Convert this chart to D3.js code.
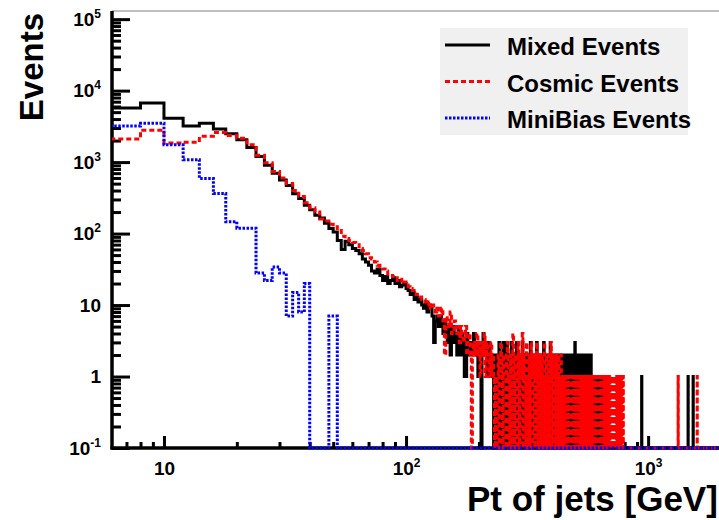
<!DOCTYPE html>
<html>
<head>
<meta charset="utf-8">
<script src="https://cdn.jsdelivr.net/npm/d3@7"></script>
<style>
  body { margin: 0; background: #fff; }
  text { font-family: "Liberation Sans", Arial, Helvetica, sans-serif; font-weight: bold; }
</style>
</head>
<body>
<svg id="chart" width="719" height="520"></svg>
<script>
// Jet transverse-momentum spectra, filled in 2 GeV bins starting at 6 GeV
const binStart = 6;
const binWidth = 2;
const binEnd = 2000;

const seriesNames = ["Mixed Events", "Cosmic Events", "MiniBias Events"];

// Mixed events, bins 6 .. 240 GeV
const mixedLowPt = [
  5700, 6700, 4100, 3200, 3500, 2900, 2500,
  2050, 1600, 1200, 900, 700, 560, 470, 360, 310, 250,
  215, 180, 165, 140, 118, 105, 80, 60, 78, 70,
  62, 58, 52, 44, 40, 36, 30, 28, 32, 26,
  22, 25, 20, 22, 24, 20, 22, 18, 19, 20,
  17, 16, 14, 15, 12, 13, 11, 12, 10, 9,
  11, 8, 10, 9, 7, 3, 6, 7, 5, 7,
  6, 4, 6, 5, 3, 5, 2, 4, 5, 3,
  4, 2, 5, 3, 2, 4, 3, 1, 1, 4,
  2, 3, 2, 3, 2, 4, 3, 2, 3, 1,
  2, 3, 0, 2, 4, 3, 2, 3, 1, 2,
  3, 2, 1, 2, 1, 0, 1, 2, 1, 0
];
// Mixed events, bins 240 .. 800 GeV
const mixedTail = [
  1, 3, 0, 2, 1, 0, 3, 1, 2, 0,
  3, 1, 0, 2, 0, 1, 3, 2, 0, 1,
  2, 0, 1, 3, 1, 0, 2, 1, 0, 2,
  0, 3, 1, 0, 2, 1, 0, 1, 2, 0,
  1, 0, 2, 3, 0, 1, 0, 2, 1, 0,
  2, 1, 0, 3, 1, 0, 1, 2, 0, 1,
  0, 1, 2, 0, 1, 3, 0, 1, 0, 2,
  1, 0, 2, 1, 0, 1, 0, 3, 1, 0,
  2, 0, 1, 0, 2, 1, 0, 1, 0, 2,
  0, 1, 0, 2, 1, 0, 2, 0, 1, 0,
  2, 1, 0, 2, 0, 2, 1, 0, 2, 2,
  0, 2, 1, 0, 2, 0, 1, 2, 0, 2,
  1, 0, 2, 0, 1, 2, 0, 2, 1, 3,
  2, 0, 1, 2, 0, 2, 1, 0, 2, 0,
  1, 2, 0, 2, 0, 1, 2, 0, 1, 2,
  0, 2, 1, 0, 2, 0, 2, 1, 0, 2,
  2, 0, 1, 2, 0, 1, 0, 2, 1, 0,
  2, 1, 0, 1, 0, 0, 1, 0, 0, 1,
  0, 0, 1, 0, 0, 0, 1, 0, 0, 0,
  0, 1, 0, 0, 0, 0, 0, 1, 0, 0,
  0, 0, 0, 0, 0, 1, 0, 0, 0, 0,
  0, 0, 0, 0, 0, 0, 0, 0, 0, 0,
  0, 0, 0, 0, 0, 0, 0, 0, 0, 0,
  0, 0, 0, 0, 0, 0, 0, 0, 0, 0,
  0, 0, 0, 0, 0, 0, 0, 0, 0, 0,
  0, 0, 0, 0, 0, 0, 0, 0, 0, 0,
  0, 0, 0, 0, 0, 0, 0, 0, 0, 0,
  0, 0, 0, 0, 0, 0, 0, 0, 0, 0
];
// Isolated high-pt entries [bin low edge in GeV, count]
const mixedHighPt = [[940, 1], [1462, 1], [1534, 1]];

// Cosmic events, bins 6 .. 240 GeV
const cosmicLowPt = [
  2100, 2800, 1850, 1900, 2300, 2600, 2350,
  2150, 1750, 1250, 980, 740, 600, 500, 400, 330, 270,
  230, 200, 160, 150, 135, 125, 110, 92, 85, 80,
  75, 70, 62, 58, 52, 46, 44, 40, 36, 34,
  32, 30, 27, 26, 25, 24, 22, 23, 20, 21,
  19, 18, 17, 16, 15, 14, 14, 13, 12, 12,
  11, 10, 11, 9, 10, 9, 8, 9, 7, 8,
  9, 6, 2, 7, 6, 5, 8, 4, 4, 6,
  5, 4, 5, 3, 5, 4, 3, 4, 5, 2,
  3, 4, 2, 0, 3, 2, 3, 2, 4, 2,
  3, 1, 2, 3, 2, 4, 1, 2, 3, 2,
  1, 2, 3, 1, 2, 1, 0, 1, 0, 1
];
// Cosmic events, bins 240 .. 800 GeV
const cosmicTail = [
  2, 0, 1, 3, 1, 0, 2, 1, 1, 0,
  2, 3, 1, 0, 1, 2, 0, 1, 4, 1,
  0, 2, 1, 1, 0, 3, 1, 0, 2, 1,
  1, 4, 0, 2, 1, 1, 0, 3, 2, 0,
  1, 2, 0, 1, 3, 1, 0, 2, 1, 1,
  0, 2, 1, 3, 0, 1, 2, 0, 1, 2,
  1, 0, 2, 1, 1, 0, 3, 1, 0, 1,
  2, 1, 0, 1, 2, 0, 1, 1, 3, 0,
  1, 2, 0, 1, 1, 0, 2, 1, 0, 2,
  1, 0, 1, 2, 0, 1, 1, 0, 2, 1,
  0, 1, 1, 0, 1, 1, 0, 1, 1, 0,
  1, 1, 0, 1, 0, 1, 1, 1, 0, 1,
  1, 0, 1, 1, 0, 1, 1, 0, 1, 1,
  0, 1, 1, 0, 1, 0, 1, 1, 0, 1,
  1, 0, 1, 1, 1, 0, 1, 0, 1, 1,
  0, 1, 0, 1, 1, 0, 1, 1, 0, 1,
  1, 0, 1, 0, 1, 1, 0, 1, 1, 0,
  1, 1, 0, 1, 0, 1, 0, 1, 1, 0,
  1, 0, 1, 1, 0, 1, 0, 0, 1, 1,
  0, 1, 0, 1, 1, 0, 1, 0, 1, 0,
  1, 1, 0, 0, 1, 0, 1, 1, 0, 1,
  0, 1, 0, 1, 0, 0, 1, 1, 0, 1,
  1, 0, 1, 0, 0, 1, 0, 1, 0, 1,
  0, 0, 1, 1, 0, 1, 0, 0, 1, 0,
  1, 0, 0, 1, 0, 1, 1, 0, 0, 1,
  0, 1, 0, 0, 1, 0, 1, 0, 0, 1,
  1, 0, 0, 1, 0, 0, 1, 0, 1, 0,
  0, 1, 0, 0, 1, 0, 0, 0, 0, 0
];
const cosmicHighPt = [[1330, 1], [1594, 1]];

// Minimum-bias events, bins 6 .. 54 GeV (empty above)
const miniBiasCounts = [
  3200, 3500, 1750, 1080, 590, 365, 146, 119, 119, 28,
  22, 34, 28, 7, 15, 8, 20, 0, 0, 0,
  0, 7, 7, 0
];

const xTickValues = [10, 100, 1000];
const xTickLabels = [["10", ""], ["10", "2"], ["10", "3"]];
const yTickValues = [0.1, 1, 10, 100, 1000, 10000, 100000];
const yTickLabels = [["10", "-1"], ["1", ""], ["10", ""], ["10", "2"], ["10", "3"], ["10", "4"], ["10", "5"]];

// ---- build full-range bin tables ----
const nBins = Math.round((binEnd - binStart) / binWidth);
function fullTable(parts, sparse) {
  const arr = new Array(nBins).fill(0);
  let i = 0;
  parts.forEach(p => p.forEach(v => { arr[i++] = v; }));
  (sparse || []).forEach(([lo, n]) => {
    arr[Math.round((lo - binStart) / binWidth)] = n;
  });
  return arr;
}
const mixed = fullTable([mixedLowPt, mixedTail], mixedHighPt);
const cosmic = fullTable([cosmicLowPt, cosmicTail], cosmicHighPt);
const miniBias = fullTable([miniBiasCounts], []);

// ---- scales ----
const frame = { left: 112, right: 721, top: 11, bottom: 448 };
const yMin = 0.1, yMax = 1.3e5;
const x = d3.scaleLog().domain([6.1, binEnd]).range([frame.left, frame.right]);
const y = d3.scaleLog().domain([yMin, yMax]).range([frame.bottom, frame.top]);

const svg = d3.select("#chart");

// frame top edge
svg.append("line")
  .attr("x1", frame.left).attr("x2", 719)
  .attr("y1", frame.top).attr("y2", frame.top)
  .attr("stroke", "#aaa").attr("stroke-width", 1.5);

// ---- axes ----
const yMinor = [];
for (let k = -1; k <= 4; k++) for (let m = 2; m <= 9; m++) yMinor.push(m * Math.pow(10, k));
const xMinor = [7, 8, 9, 20, 30, 40, 50, 60, 70, 80, 90, 200, 300, 400, 500, 600, 700, 800, 900];

function styleAxis(g) {
  g.select(".domain").remove();
  g.selectAll(".tick line").attr("stroke", "#000").attr("stroke-width", 3);
  g.selectAll("text").attr("fill", "#000").attr("font-size", 19)
    .attr("font-family", "'Liberation Sans', Arial, sans-serif").attr("font-weight", "bold");
}
function superscriptLabels(g, labels) {
  g.selectAll(".tick text").each(function (d, i) {
    const t = d3.select(this).text(null);
    t.append("tspan").text(labels[i][0]);
    if (labels[i][1]) t.append("tspan").attr("font-size", 12).attr("dy", -8).text(labels[i][1]);
  });
}

const gYMinor = svg.append("g").attr("transform", `translate(${frame.left},0)`)
  .call(d3.axisLeft(y).tickValues(yMinor).tickSize(-9).tickFormat(() => ""));
styleAxis(gYMinor);
const gY = svg.append("g").attr("transform", `translate(${frame.left},0)`)
  .call(d3.axisLeft(y).tickValues(yTickValues).tickSize(-18).tickPadding(11).tickFormat(() => ""));
styleAxis(gY);
superscriptLabels(gY, yTickLabels);

const gXMinor = svg.append("g").attr("transform", `translate(0,${frame.bottom})`)
  .call(d3.axisBottom(x).tickValues(xMinor).tickSize(-6).tickFormat(() => ""));
styleAxis(gXMinor);
const gX = svg.append("g").attr("transform", `translate(0,${frame.bottom})`)
  .call(d3.axisBottom(x).tickValues(xTickValues).tickSize(-12).tickPadding(14).tickFormat(() => ""));
styleAxis(gX);
superscriptLabels(gX, xTickLabels);

// axis lines
svg.append("line").attr("x1", frame.left).attr("x2", frame.left)
  .attr("y1", frame.top).attr("y2", frame.bottom + 1.5)
  .attr("stroke", "#000").attr("stroke-width", 3.5);
svg.append("line").attr("x1", frame.left - 1.5).attr("x2", frame.right)
  .attr("y1", frame.bottom).attr("y2", frame.bottom)
  .attr("stroke", "#000").attr("stroke-width", 3.5);

// ---- histograms ----
svg.append("clipPath").attr("id", "plotClip").append("rect")
  .attr("x", frame.left).attr("y", frame.top)
  .attr("width", frame.right - frame.left).attr("height", frame.bottom - frame.top + 2);

const stepLine = d3.line()
  .x(d => x(d[0]))
  .y(d => y(Math.max(d[1], yMin)));

function stepPoints(counts) {
  const pts = [];
  counts.forEach((v, i) => {
    const lo = binStart + i * binWidth;
    pts.push([lo, v], [lo + binWidth, v]);
  });
  return pts;
}

const series = [
  { name: seriesNames[0], counts: mixed, color: "#000000", dash: null },
  { name: seriesNames[1], counts: cosmic, color: "#ff0000", dash: "5,3" },
  { name: seriesNames[2], counts: miniBias, color: "#0000ff", dash: "2.5,1.5" }
];

const plot = svg.append("g").attr("clip-path", "url(#plotClip)");
series.forEach(s => {
  plot.append("path")
    .attr("d", stepLine(stepPoints(s.counts)))
    .attr("fill", "none")
    .attr("stroke", s.color)
    .attr("stroke-width", 3)
    .attr("stroke-dasharray", s.dash)
    .attr("stroke-linejoin", "miter");
});

// ---- legend ----
const legend = svg.append("g");
legend.append("rect").attr("x", 440).attr("y", 28).attr("width", 248).attr("height", 107)
  .attr("fill", "#f0f0f0");
series.forEach((s, i) => {
  const ly = 45 + i * 36.5;
  legend.append("line").attr("x1", 445).attr("x2", 490).attr("y1", ly).attr("y2", ly)
    .attr("stroke", s.color).attr("stroke-width", 3).attr("stroke-dasharray", s.dash);
  legend.append("text").attr("x", 507).attr("y", ly + 10)
    .attr("font-size", 24).attr("fill", "#000").text(s.name);
});

// ---- axis titles ----
svg.append("text")
  .attr("transform", "translate(43,13) rotate(-90)")
  .attr("text-anchor", "end").attr("font-size", 33).attr("fill", "#000")
  .text("Events");
svg.append("text")
  .attr("x", 467).attr("y", 511)
  .attr("font-size", 35).attr("fill", "#000")
  .text("Pt of jets [GeV]");
</script>
</body>
</html>
